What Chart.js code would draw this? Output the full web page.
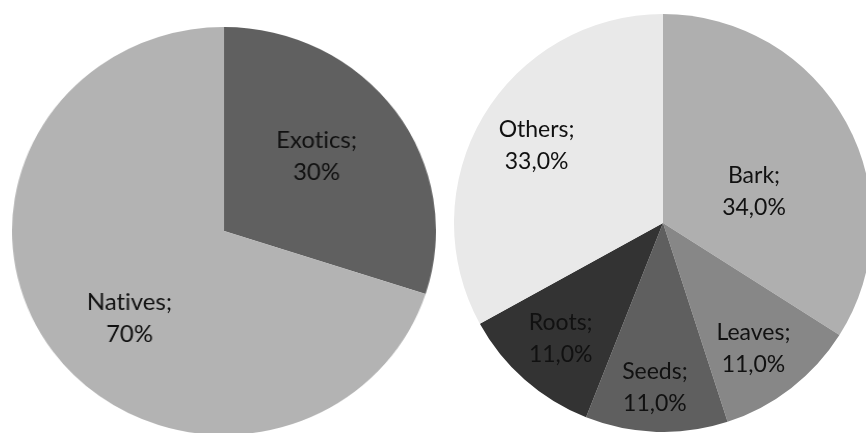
<!DOCTYPE html>
<html lang="en">

<head>
    <meta charset="UTF-8" />
    <title>Natives vs Exotics / Plant parts</title>
    <script src="https://cdn.jsdelivr.net/npm/chart.js"></script>
    <style>
        html, body {
            margin: 0;
            padding: 0;
            width: 866px;
            height: 433px;
            overflow: hidden;
            background: #ffffff;
        }

        .pie-box {
            position: absolute;
        }

        /* left pie is slightly wider than tall in the original */
        #leftBox {
            left: 20px;
            top: 27px;
            width: 408px;
            height: 408px;
            transform: scaleX(1.039);
            transform-origin: center center;
        }

        #rightBox {
            left: 454px;
            top: 14px;
            width: 418px;
            height: 418px;
        }
    </style>
</head>

<body>
    <div class="pie-box" id="leftBox">
        <canvas id="originChart" width="408" height="408"></canvas>
    </div>
    <div class="pie-box" id="rightBox">
        <canvas id="partsChart" width="418" height="418"></canvas>
    </div>

    <script>
        // Data
        const originLabels = ['Exotics', 'Natives'];
        const originValues = [30, 70];

        const partLabels = ['Bark', 'Leaves', 'Seeds', 'Roots', 'Others'];
        const partValues = [34, 11, 11, 11, 33];

        const originColors = ['#606060', '#b3b3b3'];
        const partColors = ['#afafaf', '#878787', '#5f5f5f', '#333333', '#e9e9e9'];

        // Draws "Name;" / "value%" inside each slice
        const sliceLabels = {
            id: 'sliceLabels',
            afterDatasetsDraw(chart, args, opts) {
                const ctx = chart.ctx;
                const meta = chart.getDatasetMeta(0);
                const values = chart.data.datasets[0].data;
                ctx.save();
                ctx.fillStyle = '#111111';
                ctx.font = '23px Lato';
                ctx.textRendering = 'optimizeSpeed'; // no "ti" ligature
                ctx.textAlign = 'center';
                ctx.textBaseline = 'middle';
                meta.data.forEach((arc, i) => {
                    const p = arc.getProps(['x', 'y', 'startAngle', 'endAngle', 'outerRadius'], true);
                    const place = opts.place[i];
                    const mid = (p.startAngle + p.endAngle) / 2 + place[1] * Math.PI / 180;
                    const r = p.outerRadius * place[0];
                    const x = p.x + Math.cos(mid) * r;
                    const y = p.y + Math.sin(mid) * r;
                    const txt = values[i].toFixed(opts.decimals).replace('.', ',') + '%';
                    ctx.fillText(chart.data.labels[i] + ';', x, y - 16);
                    ctx.fillText(txt, x, y + 16);
                });
                ctx.restore();
            }
        };

        function createPie(id, labels, values, colors, decimals, place) {
            const ctx = document.getElementById(id).getContext('2d');
            return new Chart(ctx, {
                type: 'pie',
                data: {
                    labels: labels,
                    datasets: [{
                        data: values,
                        backgroundColor: colors,
                        borderWidth: 0
                    }]
                },
                options: {
                    responsive: false,
                    animation: false,
                    layout: { padding: 0 },
                    plugins: {
                        legend: { display: false },
                        tooltip: { enabled: false },
                        sliceLabels: { decimals: decimals, place: place }
                    }
                },
                plugins: [sliceLabels]
            });
        }

        // [radius fraction, angle shift in degrees] per slice
        createPie('originChart', originLabels, originValues, originColors, 0,
            [[0.57, -4], [0.62, -8]]);
        createPie('partsChart', partLabels, partValues, partColors, 1,
            [[0.46, 10], [0.74, 2], [0.79, 1], [0.74, 0], [0.71, 1]]);
    </script>
</body>

</html>
